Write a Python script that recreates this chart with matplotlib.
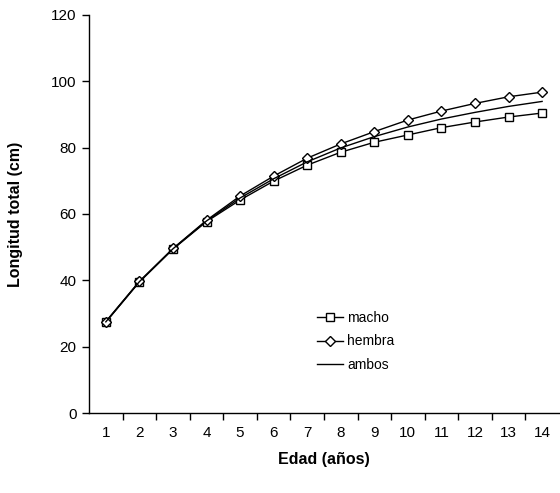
import numpy as np
import matplotlib
matplotlib.use("Agg")
import matplotlib.pyplot as plt

plt.rcParams['font.family'] = ['Liberation Sans', 'DejaVu Sans']

edad = list(range(1, 15))
macho = [27.4, 39.5, 49.4, 57.7, 64.2, 69.9, 74.7, 78.6, 81.6, 83.8, 86.0, 87.7, 89.2, 90.4]
hembra = [27.6, 39.7, 49.6, 58.1, 65.4, 71.4, 76.8, 81.1, 84.8, 88.3, 91.0, 93.3, 95.3, 96.7]
ambos = [27.5, 39.6, 49.5, 57.9, 64.8, 70.6, 75.7, 79.9, 83.3, 86.2, 88.6, 90.6, 92.4, 93.9]

fig = plt.figure(figsize=(5.6, 4.93), dpi=100)
ax = fig.add_axes([0.159, 0.162, 0.839, 0.808])

x = np.arange(len(edad))
ax.plot(x, macho, color='black', lw=1.0, marker='s', ms=5.5, mfc='white', mec='black', mew=1.0, label='macho')
ax.plot(x, hembra, color='black', lw=1.0, marker='D', ms=5, mfc='white', mec='black', mew=1.0, label='hembra')
ax.plot(x, ambos, color='black', lw=1.0, label='ambos')

ax.set_xlim(-0.5, len(edad) - 0.5)
ax.set_ylim(0, 120)
ax.set_yticks(range(0, 121, 20))
ax.set_xticks(x)
ax.set_xticklabels([str(e) for e in edad])
ax.set_xticks(np.arange(0.5, len(edad) - 0.5, 1), minor=True)
ax.tick_params(axis='x', which='major', length=0, pad=9, labelsize=11)
ax.tick_params(axis='x', which='minor', length=5, width=1, direction='out')
ax.tick_params(axis='y', length=5, width=1, direction='out', labelsize=11, pad=4)

for s in ['top', 'right']:
    ax.spines[s].set_visible(False)
for s in ['left', 'bottom']:
    ax.spines[s].set_linewidth(1.0)

ax.set_xlabel('Edad (años)', fontsize=11.5, fontweight='bold', labelpad=9)
ax.set_ylabel('Longitud total (cm)', fontsize=11.5, fontweight='bold', labelpad=20)

ax.legend(loc='upper left', bbox_to_anchor=(310 / 560, 1 - 304 / 493),
          bbox_transform=fig.transFigure, borderpad=0, frameon=False, fontsize=10,
          handlelength=1.9, handletextpad=0.3, labelspacing=0.68)

fig.savefig('out.png', dpi=100)
